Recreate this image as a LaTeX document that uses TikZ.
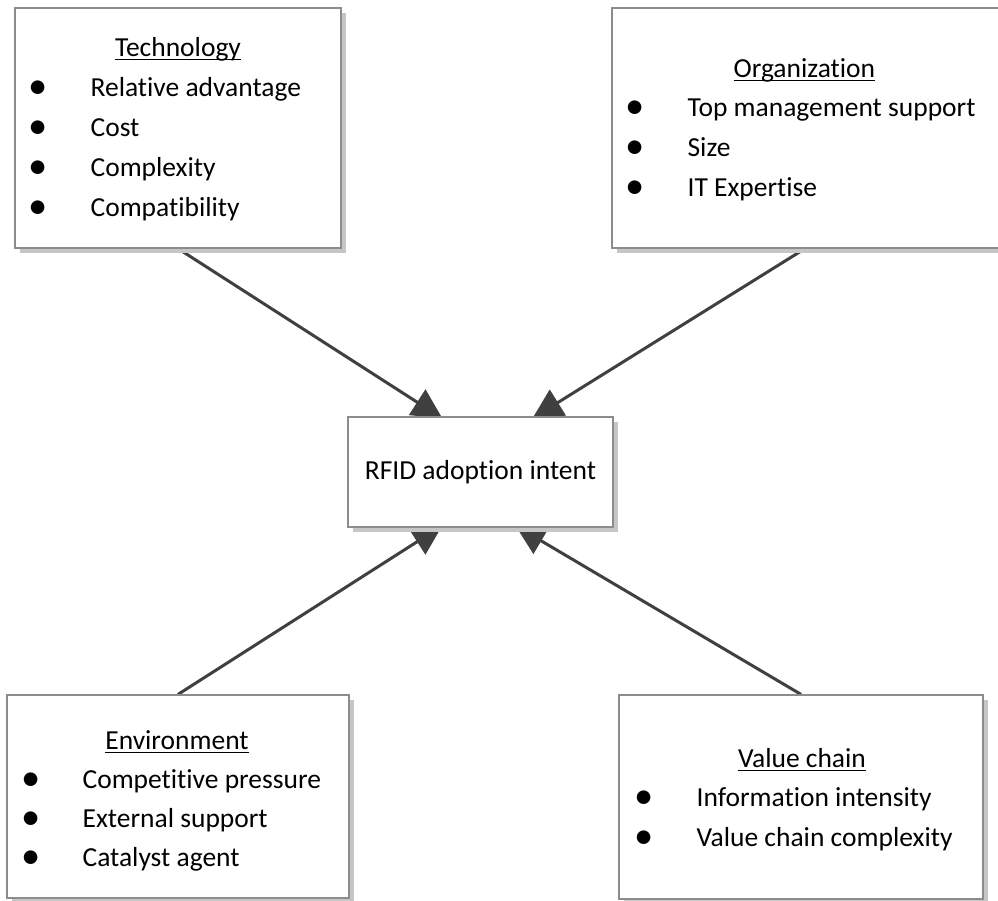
\documentclass[tikz,border=0pt]{standalone}
\usepackage{fontspec}
\setmainfont{Carlito}[Ligatures=CommonOff]
\usepackage{tikz}
\usetikzlibrary{positioning,arrows.meta,calc,backgrounds,shadows}

\newsavebox{\hdbox}
\newcommand{\hdline}[1]{\sbox{\hdbox}{#1}\rlap{\rule[-3.5pt]{\wd\hdbox}{1.3pt}}\usebox{\hdbox}}
\newcommand{\bigdot}{\raisebox{-2.5pt}{\scalebox{1.4}{\textbullet}}}

\begin{document}
\begin{tikzpicture}[x=1pt,y=-1pt,
  box/.style={rectangle,draw=gray!90,line width=1.2pt,fill=white,inner sep=0pt,
    font=\fontsize{27.5}{40}\selectfont,
    drop shadow={shadow xshift=5pt,shadow yshift=-5pt,fill=gray!45,opacity=1}},
  head/.style={anchor=base,inner sep=0pt,font=\fontsize{27.5}{40}\selectfont},
  items/.style={anchor=base west,inner sep=0pt,font=\fontsize{27.5}{40}\selectfont},
  arrow/.style={-{Triangle[length=30pt,width=30pt]},line width=3pt,black!75},
]
\useasboundingbox (0,0) rectangle (998,901);

% Factor boxes
\node[box,minimum width=326pt,minimum height=240pt] (tech) at (178,128) {};
\node[box,minimum width=398pt,minimum height=240pt] (org) at (811,128) {};
\node[box,minimum width=342pt,minimum height=203pt] (env) at (178,796.5) {};
\node[box,minimum width=364pt,minimum height=204pt] (vc) at (801,797) {};

% Central construct
\node[box,minimum width=265pt,minimum height=110pt] (rfid) at (480.5,472) {RFID adoption intent};

% Headings
\node[head] (techhead) at ($(tech.north)+(0,49)$) {\hdline{Technology}};
\node[head] (orghead) at ($(org.north west)+(193,70)$) {\hdline{Organization}};
\node[head] (envhead) at ($(env.north)+(-1,55)$) {\hdline{Environment}};
\node[head] (vchead) at ($(vc.north)+(1,73)$) {\hdline{Value chain}};

% Bullet lists
\node[items] (techlist) at ($(tech.north west)+(14,89)$) {%
\begin{tabular}[t]{@{}p{62pt}@{}l@{}}
\bigdot & Relative advantage\\
\bigdot & Cost\\
\bigdot & Complexity\\
\bigdot & Compatibility
\end{tabular}};
\node[items] (orglist) at ($(org.north west)+(14,109)$) {%
\begin{tabular}[t]{@{}p{62pt}@{}l@{}}
\bigdot & Top management support\\
\bigdot & Size\\
\bigdot & IT Expertise
\end{tabular}};
\node[items,font=\fontsize{27.5}{39}\selectfont] (envlist) at ($(env.north west)+(15,94)$) {%
\begin{tabular}[t]{@{}p{61pt}@{}l@{}}
\bigdot & Competitive pressure\\
\bigdot & External support\\
\bigdot & Catalyst agent
\end{tabular}};
\node[items] (vclist) at ($(vc.north west)+(16,112)$) {%
\begin{tabular}[t]{@{}p{62pt}@{}l@{}}
\bigdot & Information intensity\\
\bigdot & Value chain complexity
\end{tabular}};

% Influence arrows
\begin{scope}[on background layer]
\draw[arrow] (tech.south) -- ($(rfid.north west)+(95,2)$);
\draw[arrow] ($(org.south)+(-6,0)$) -- ($(rfid.north west)+(185,2)$);
\draw[arrow] (env.north) -- ($(rfid.south west)+(95,-2)$);
\draw[arrow] (vc.north) -- ($(rfid.south west)+(168,-2)$);
\end{scope}

\end{tikzpicture}
\end{document}
